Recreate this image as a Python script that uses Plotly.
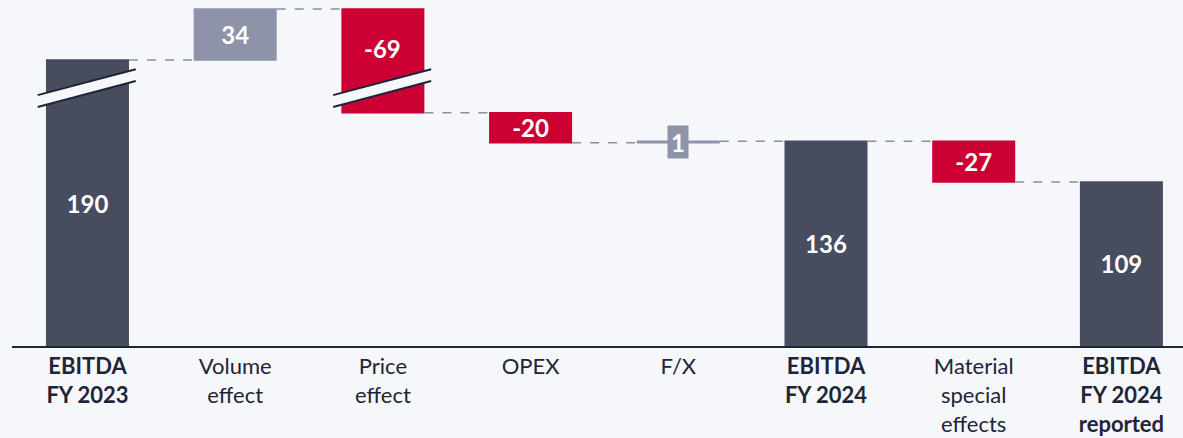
import plotly.graph_objects as go

categories = ["EBITDA FY 2023", "Volume effect", "Price effect", "OPEX", "F/X",
              "EBITDA FY 2024", "Material special effects", "EBITDA FY 2024 reported"]
tick_labels = ["<b>EBITDA<br>FY 2023</b>", "Volume<br>effect", "Price<br>effect", "OPEX", "F/X",
               "<b>EBITDA<br>FY 2024</b>", "Material<br>special<br>effects", "<b>EBITDA<br>FY 2024<br>reported</b>"]
values = [190, 34, -69, -20, 1, 0, -27, 0]
measures = ["absolute", "relative", "relative", "relative", "relative", "total", "relative", "total"]
value_labels = ["190", "34", "-69", "-20", "1", "136", "-27", "109"]

BG = "#f5f7fb"
DARK = "#474d5f"
GRAY = "#8e93aa"
RED = "#cc0033"
NAVY = "#1f2538"
FONT = "Lato"

x = list(range(len(categories)))

# text drawn by the trace (price and F/X labels are drawn as annotations)
trace_text = [t if i not in (2, 4) else "" for i, t in enumerate(value_labels)]
label_font = dict(family=FONT, size=24, color="white", weight=700)

fig = go.Figure(go.Waterfall(
    x=x, y=values, measure=measures,
    width=[0.562] * len(x),
    text=trace_text, textposition="inside", insidetextanchor="middle",
    constraintext="none",
    textfont=label_font,
    increasing=dict(marker=dict(color=GRAY)),
    decreasing=dict(marker=dict(color=RED)),
    totals=dict(marker=dict(color=DARK)),
    connector=dict(mode="between", line=dict(color="#8a8fa3", width=1.5, dash="dash")),
    hoverinfo="skip",
))

# running totals for label placement
run = []
s = 0
for v, m in zip(values, measures):
    if m == "absolute":
        s = v
    elif m == "relative":
        s += v
    run.append(s)

annotations = [
    dict(x=2, y=run[1] - 26, xref="x", yref="y", text=value_labels[2], showarrow=False,
         font=label_font),
    dict(x=4, y=run[4] - 0.5, xref="x", yref="y", text=value_labels[4], showarrow=False,
         bgcolor=GRAY, width=20, height=32, borderpad=0, font=label_font),
]

# axis break marks on the first bar and the price bar
shapes = []
for cx in (0, 2):
    x0, x1 = cx - 0.337, cx + 0.327
    ya0, ya1 = 0.725, 0.800   # upper line (paper)
    yb0, yb1 = 0.691, 0.766   # lower line (paper)
    shapes.append(dict(type="path", xref="x", yref="paper",
                       path=f"M {x0} {ya0} L {x1} {ya1} L {x1} {yb1} L {x0} {yb0} Z",
                       fillcolor=BG, line=dict(width=0), layer="above"))
    shapes.append(dict(type="line", xref="x", yref="paper", x0=x0, y0=ya0, x1=x1, y1=ya1,
                       line=dict(color=NAVY, width=2), layer="above"))
    shapes.append(dict(type="line", xref="x", yref="paper", x0=x0, y0=yb0, x1=x1, y1=yb1,
                       line=dict(color=NAVY, width=2), layer="above"))

fig.update_layout(
    width=1183, height=438,
    margin=dict(l=12, r=0, t=0, b=92),
    paper_bgcolor=BG, plot_bgcolor=BG,
    showlegend=False,
    annotations=annotations,
    shapes=shapes,
    font=dict(family=FONT, color=NAVY),
    xaxis=dict(range=[-0.511, 7.417], tickmode="array", tickvals=x, ticktext=tick_labels,
               showgrid=False, zeroline=False, showline=True, linecolor=NAVY, linewidth=2,
               tickfont=dict(family=FONT, size=22, color=NAVY), ticks="", fixedrange=True),
    yaxis=dict(range=[0, 229.9], visible=False, showgrid=False, zeroline=False, fixedrange=True),
)

fig.write_html("out.html", config={"displayModeBar": False},
               post_script="document.body.style.margin='0';document.body.style.background='#f5f7fb';")
